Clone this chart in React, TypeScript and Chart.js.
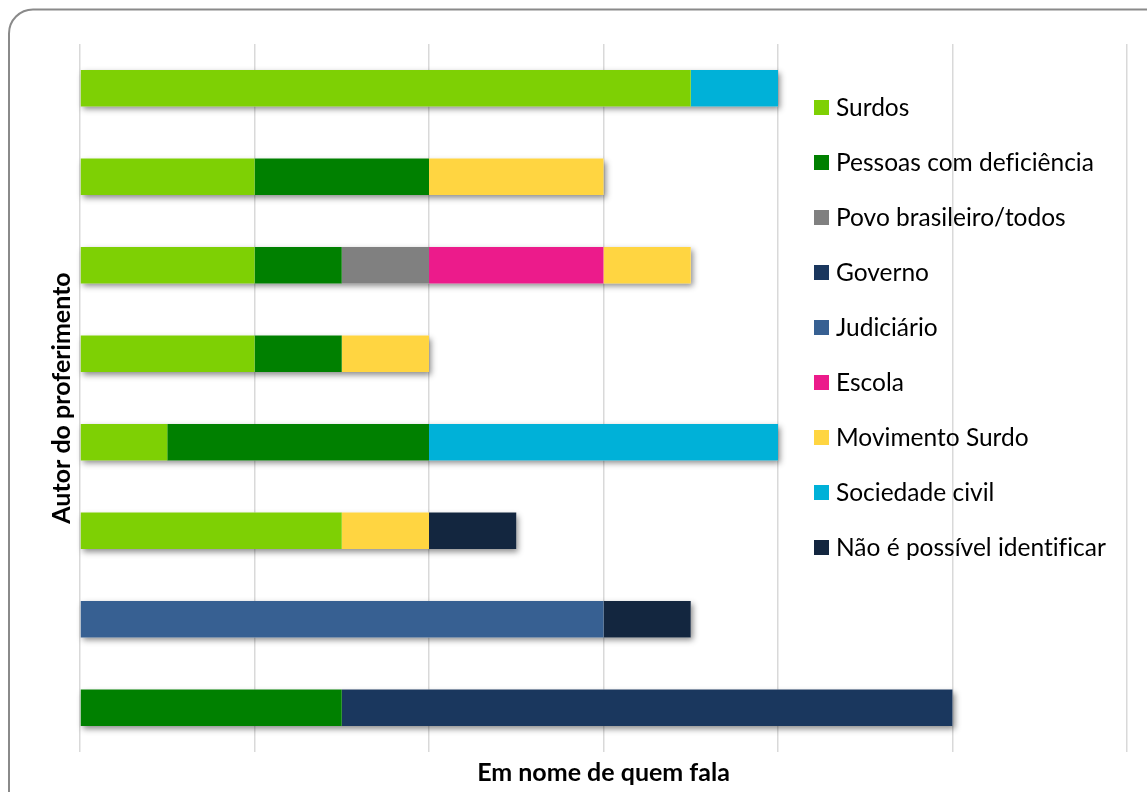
import { useEffect, useRef } from "react";
import { Chart, registerables } from "chart.js";

Chart.register(...registerables);

// ---- Data ----
const categories = ["1", "2", "3", "4", "5", "6", "7", "8"];
const seriesNames = [
  "Surdos",
  "Pessoas com deficiência",
  "Povo brasileiro/todos",
  "Governo",
  "Judiciário",
  "Escola",
  "Movimento Surdo",
  "Sociedade civil",
  "Não é possível identificar",
];
const surdos = [7, 2, 2, 2, 1, 3, 0, 0];
const pessoas = [0, 2, 1, 1, 3, 0, 0, 3];
const povo = [0, 0, 1, 0, 0, 0, 0, 0];
const governo = [0, 0, 0, 0, 0, 0, 0, 7];
const judiciario = [0, 0, 0, 0, 0, 0, 6, 0];
const escola = [0, 0, 2, 0, 0, 0, 0, 0];
const movimento = [0, 2, 1, 1, 0, 1, 0, 0];
const sociedade = [1, 0, 0, 0, 4, 0, 0, 0];
const naoIdent = [0, 0, 0, 0, 0, 1, 1, 0];
const seriesValues = [surdos, pessoas, povo, governo, judiciario, escola, movimento, sociedade, naoIdent];
const seriesColors = [
  "#7ED004",
  "#008000",
  "#808080",
  "#1A375E",
  "#376092",
  "#EC1B8B",
  "#FFD541",
  "#00B1D8",
  "#13263F",
];
const xMin = 0;
const xMax = 12;
const xStep = 2;
const xTitle = "Em nome de quem fala";
const yTitle = "Autor do proferimento";

const FONT = "Lato, 'Open Sans', sans-serif";

export default function App() {
  const ref = useRef<HTMLCanvasElement | null>(null);

  useEffect(() => {
    if (!ref.current) return;

    const borderPlugin = {
      id: "borderFrame",
      beforeDraw(chart: any) {
        const ctx = chart.ctx;
        ctx.save();
        ctx.fillStyle = "#ffffff";
        ctx.fillRect(0, 0, chart.width, chart.height);
        ctx.beginPath();
        ctx.roundRect(9, 9.5, 1160, 820, 24);
        ctx.strokeStyle = "#8a8a8a";
        ctx.lineWidth = 2;
        ctx.stroke();
        ctx.restore();
      },
    };

    const shadowPlugin = {
      id: "barShadow",
      beforeDatasetsDraw(chart: any) {
        const ctx = chart.ctx;
        const n = chart.data.labels.length;
        ctx.save();
        ctx.shadowColor = "rgba(0,0,0,0.45)";
        ctx.shadowBlur = 6;
        ctx.shadowOffsetX = 2;
        ctx.shadowOffsetY = 3;
        ctx.fillStyle = "#ffffff";
        for (let i = 0; i < n; i++) {
          let minX = Infinity;
          let maxX = -Infinity;
          let y = 0;
          let h = 0;
          chart.data.datasets.forEach((ds: any, di: number) => {
            const v = ds.data[i];
            if (!v) return;
            const el: any = chart.getDatasetMeta(di).data[i];
            const a = Math.min(el.x, el.base);
            const b = Math.max(el.x, el.base);
            minX = Math.min(minX, a);
            maxX = Math.max(maxX, b);
            y = el.y;
            h = el.height;
          });
          if (maxX > minX) {
            ctx.fillRect(minX, y - h / 2, maxX - minX, h);
          }
        }
        ctx.restore();
      },
    };

    const legendPlugin = {
      id: "sideLegend",
      afterDraw(chart: any) {
        const ctx = chart.ctx;
        ctx.save();
        ctx.font = `24.5px ${FONT}`;
        try {
          (ctx as any).textRendering = "optimizeSpeed";
        } catch (e) {
          /* ignore */
        }
        ctx.textBaseline = "middle";
        ctx.textAlign = "left";
        chart.data.datasets.forEach((ds: any, i: number) => {
          const cy = 107.5 + i * 55;
          ctx.fillStyle = ds.backgroundColor;
          ctx.fillRect(814, cy - 7.5, 15, 15);
          ctx.fillStyle = "#000000";
          ctx.fillText(ds.label, 836, cy + 1);
        });
        ctx.restore();
      },
    };

    const chart = new Chart(ref.current, {
      type: "bar",
      data: {
        labels: categories,
        datasets: seriesNames.map((name, i) => ({
          label: name,
          data: seriesValues[i],
          backgroundColor: seriesColors[i],
          borderWidth: 0,
          categoryPercentage: 1,
          barPercentage: 0.41,
        })),
      },
      options: {
        indexAxis: "y",
        responsive: false,
        animation: false,
        layout: { padding: { left: 47, right: 20, top: 44, bottom: 4 } },
        plugins: {
          legend: { display: false },
          tooltip: { enabled: false },
        },
        scales: {
          x: {
            stacked: true,
            min: xMin,
            max: xMax,
            ticks: { display: false, stepSize: xStep },
            grid: { color: "#d9d9d9", lineWidth: 1.5, drawTicks: false },
            border: { display: false },
            title: {
              display: true,
              text: xTitle,
              color: "#000000",
              font: { family: FONT, size: 25, weight: "bold" },
              padding: { top: 6, bottom: 0 },
            },
          },
          y: {
            stacked: true,
            ticks: { display: false },
            grid: { display: false, drawTicks: false },
            border: { display: false },
            title: {
              display: true,
              text: yTitle,
              color: "#000000",
              font: { family: FONT, size: 25, weight: "bold" },
              padding: { top: 0, bottom: 3 },
            },
          },
        },
      },
      plugins: [borderPlugin, shadowPlugin, legendPlugin],
    } as any);

    return () => chart.destroy();
  }, []);

  return (
    <div style={{ position: "absolute", left: 0, top: 0, width: 1147, height: 792 }}>
      <canvas ref={ref} width={1147} height={792} />
    </div>
  );
}
